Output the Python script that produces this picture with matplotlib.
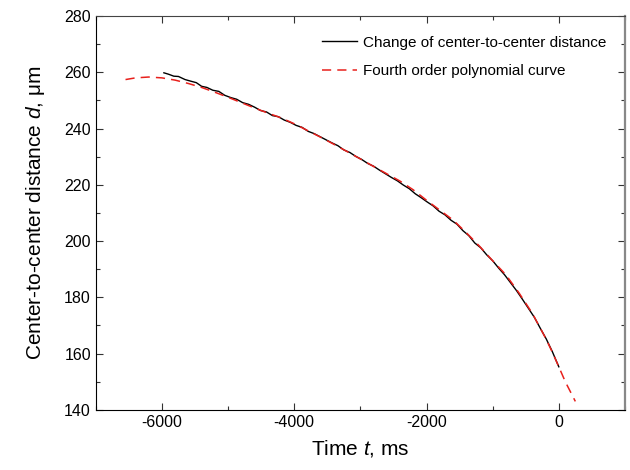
import matplotlib
matplotlib.use("Agg")
import matplotlib.pyplot as plt
from matplotlib.ticker import MultipleLocator

plt.rcParams["font.family"] = ["Liberation Sans", "DejaVu Sans"]
plt.rcParams["mathtext.fontset"] = "custom"
plt.rcParams["mathtext.rm"] = "Liberation Sans"
plt.rcParams["mathtext.it"] = "Liberation Sans:italic"
plt.rcParams["axes.unicode_minus"] = False

# measured center-to-center distance (ms, um)
time_meas = [
    -5970, -5900, -5820, -5750, -5650, -5560, -5480, -5400, -5320, -5230,
    -5140, -5050, -4960, -4870, -4780, -4690, -4600, -4510, -4420, -4330,
    -4240, -4150, -4060, -3970, -3880, -3790, -3700, -3610, -3520, -3430,
    -3340, -3250, -3160, -3070, -2980, -2890, -2800, -2710, -2620, -2530,
    -2440, -2350, -2260, -2170, -2080, -1990, -1900, -1810, -1720, -1630,
    -1540, -1450, -1360, -1270, -1180, -1090, -1000, -910, -820, -730,
    -640, -550, -460, -370, -280, -190, -100, -40, 0,
]
dist_meas = [
    259.8, 259.3, 258.6, 258.5, 257.4, 256.8, 256.3, 255.0, 254.6, 253.6,
    253.2, 251.8, 251.0, 250.4, 249.2, 248.6, 247.6, 246.4, 245.9, 244.6,
    244.2, 243.0, 242.2, 241.1, 240.4, 239.0, 238.2, 237.1, 236.0, 234.9,
    233.9, 232.4, 231.5, 230.1, 229.0, 227.6, 226.6, 225.2, 223.9, 222.6,
    221.4, 219.9, 218.6, 216.8, 215.4, 213.9, 212.5, 210.6, 209.3, 207.4,
    206.0, 203.7, 201.9, 199.3, 197.6, 195.1, 193.0, 190.4, 188.0, 185.2,
    182.4, 179.3, 176.1, 172.9, 169.0, 165.2, 160.8, 157.5, 155.3,
]

# fitted fourth order polynomial
time_fit = [
    -6550, -6400, -6200, -6000, -5800, -5600, -5400, -5200, -5000, -4800,
    -4600, -4400, -4200, -4000, -3800, -3600, -3400, -3200, -3000, -2800,
    -2600, -2400, -2200, -2000, -1800, -1600, -1400, -1200, -1000, -800,
    -600, -400, -200, -100, 0, 100, 250,
]
dist_fit = [
    257.4, 258.0, 258.3, 258.0, 257.2, 256.0, 254.6, 252.9, 251.1, 249.2,
    247.3, 245.5, 243.8, 241.7, 239.3, 236.9, 234.4, 231.8, 229.2, 226.5,
    223.9, 221.3, 218.2, 214.5, 211.0, 207.5, 203.0, 198.2, 193.0, 188.0,
    181.5, 174.3, 165.5, 160.6, 155.3, 149.9, 143.0,
]

fig = plt.figure(figsize=(6.3, 4.7), dpi=100)
ax = fig.add_axes([0.152, 0.128, 0.84, 0.838])

ax.plot(time_meas, dist_meas, color="black", lw=1.0,
        label="Change of center-to-center distance")
ax.plot(time_fit, dist_fit, color="#e8201c", lw=1.1, dashes=(6, 4),
        label="Fourth order polynomial curve")

ax.set_xlim(-7000, 1000)
ax.set_ylim(140, 280)
ax.xaxis.set_major_locator(MultipleLocator(2000))
ax.xaxis.set_minor_locator(MultipleLocator(1000))
ax.yaxis.set_major_locator(MultipleLocator(20))
ax.yaxis.set_minor_locator(MultipleLocator(10))
ax.tick_params(which="both", direction="in", top=True, right=True,
               labelsize=11.5, width=0.8, color="#333333")
ax.tick_params(which="major", length=5)
ax.tick_params(which="minor", length=3)

ax.spines["right"].set_color("#888888")
ax.spines["right"].set_linewidth(1.6)
ax.spines["top"].set_color("#444444")

ax.set_xlabel("Time $t$, ms", fontsize=15, labelpad=6)
ax.set_ylabel("Center-to-center distance $d$, μm", fontsize=15, labelpad=12)

ax.legend(loc="upper right", bbox_to_anchor=(0.99, 0.985), frameon=False,
          fontsize=11, handlelength=2.3, handletextpad=0.35,
          labelspacing=0.95)

fig.savefig("out.png", dpi=100)
